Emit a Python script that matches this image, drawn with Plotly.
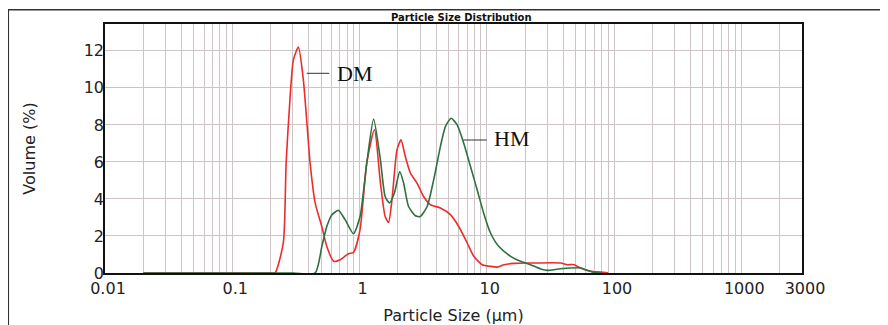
import numpy as np
import plotly.graph_objects as go

# ---- data ----
dm_size = [0.02, 0.1, 0.2, 0.217, 0.252, 0.265, 0.285, 0.302, 0.331, 0.362, 0.409, 0.448, 0.506,
           0.554, 0.628, 0.705, 0.819, 0.897, 1.01, 1.14, 1.31, 1.46, 1.59, 1.69, 1.80,
           1.97, 2.12, 2.29, 2.51, 2.83, 3.19, 3.60, 4.32, 5.18, 6.02, 7.02, 7.91, 9.2,
           10.7, 12.1, 13.7, 16.4, 20.8, 23.4, 38.0, 43.0, 48.4, 54.7, 65.6, 78.5, 90.0]
dm_vol = [0, 0, 0, 0, 1.64, 5.94, 9.53, 11.5, 12.2, 10.43, 5.95, 3.79, 2.5,
          1.42, 0.63, 0.72, 1.04, 1.11, 2.34, 5.95, 7.75, 4.86, 3.05, 2.73, 3.96,
          6.65, 7.19, 6.29, 5.40, 4.86, 4.13, 3.69, 3.51, 3.15, 2.51, 1.62, 0.90, 0.45,
          0.36, 0.32, 0.45, 0.52, 0.54, 0.54, 0.54, 0.45, 0.45, 0.27, 0.09, 0.05, 0]

hm_size = [0.02, 0.1, 0.3, 0.448, 0.506, 0.554, 0.607, 0.684, 0.771, 0.897, 1.01, 1.14, 1.29,
           1.46, 1.59, 1.72, 1.88, 2.07, 2.22, 2.43, 2.75, 3.0, 3.40, 3.83, 4.32, 4.73,
           5.25, 5.85, 6.6, 7.45, 8.4, 9.47, 10.7, 12.4, 15.4, 18.4, 22.1, 26.5, 29.9,
           38.0, 54.7, 61.7, 69.7, 80.0]
hm_vol = [0, 0, 0, 0, 1.44, 2.52, 3.15, 3.38, 2.88, 2.12, 3.05, 5.92, 8.31,
          6.11, 4.13, 3.78, 4.32, 5.48, 4.86, 3.59, 3.09, 3.05, 3.59, 5.04, 6.83, 7.91,
          8.36, 8.0, 7.0, 5.75, 4.5, 3.22, 2.16, 1.44, 0.9, 0.63, 0.45, 0.22, 0.14,
          0.23, 0.27, 0.14, 0.03, 0]

x_label_vals = [0.01, 0.1, 1, 10, 100, 1000, 3000]
x_label_text = ["0.01", "0.1", "1", "10", "100", "1000", "3000"]
y_ticks = [0, 2, 4, 6, 8, 10, 12]

# gridline positions: 1..9 multiples of each decade
grid_vals = []
for d in [0.01, 0.1, 1, 10, 100, 1000]:
    for m in range(1, 10):
        v = round(m * d, 6)
        if v <= 3000:
            grid_vals.append(v)
tick_vals = sorted(set(grid_vals + x_label_vals))
tick_text = [x_label_text[x_label_vals.index(v)] if v in x_label_vals else "" for v in tick_vals]

RED = "#ee2b2b"
GREEN = "#2f7040"
GRID = "#cdc5c5"

fig = go.Figure()
fig.add_trace(go.Scatter(x=dm_size, y=dm_vol, mode="lines", name="DM",
                         line=dict(color=RED, width=1.6, shape="spline", smoothing=0.6)))
fig.add_trace(go.Scatter(x=hm_size, y=hm_vol, mode="lines", name="HM",
                         line=dict(color=GREEN, width=1.6, shape="spline", smoothing=0.6)))

# page body has an 8px margin: figure is placed at (8, 8) on screen
OFF = 8
W, H = 888 - OFF, 325 - OFF
L, R, T, B = 105 - OFF, 86, 24 - OFF, 52
pw, ph = W - L - R, H - T - B

def px(xs):  # screen x -> paper
    return (xs - OFF - L) / pw

def py(ys):  # screen y -> paper
    return (H - B - (ys - OFF)) / ph

fig.update_layout(
    width=W, height=H,
    margin=dict(l=L, r=R, t=T, b=B, autoexpand=False),
    paper_bgcolor="white", plot_bgcolor="white",
    showlegend=False,
    font=dict(family="DejaVu Sans", size=16, color="#222"),
    xaxis=dict(type="log", range=[-2, np.log10(3000)],
               tickmode="array", tickvals=tick_vals, ticktext=tick_text,
               showgrid=True, gridcolor=GRID, gridwidth=1,
               ticks="", ticklabelshift=3,
               showline=True, linecolor="#111", linewidth=1.5, mirror=True,
               title=dict(text="Particle Size (µm)", font=dict(size=16), standoff=13),
               zeroline=False),
    yaxis=dict(range=[0, 13.45], tickmode="array", tickvals=y_ticks,
               showgrid=True, gridcolor=GRID, gridwidth=1, ticks="",
               ticklabelstandoff=-4,
               showline=True, linecolor="#111", linewidth=1.5, mirror=True,
               zeroline=False,
               title=dict(text="Volume (%)", font=dict(size=16), standoff=44)),
)

# outer frame (extends past the right and bottom edges)
fig.add_shape(type="rect", xref="paper", yref="paper",
              x0=px(8.3), x1=px(900), y0=py(340), y1=py(9.7),
              line=dict(color="#333", width=1.5), layer="below")

# chart title
fig.add_annotation(text="<b>Particle Size Distribution</b>", xref="paper", yref="paper",
                   x=px(461), y=py(18), showarrow=False, xanchor="center", yanchor="middle",
                   font=dict(family="DejaVu Sans", size=10, color="#111"))

# series labels with leader lines
fig.add_shape(type="line", xref="paper", yref="paper", x0=px(306.7), x1=px(329.3),
              y0=py(73.3), y1=py(73.3), line=dict(color="#333", width=1))
fig.add_annotation(text="DM", xref="paper", yref="paper", x=px(354), y=py(73),
                   showarrow=False, xanchor="center", yanchor="middle",
                   font=dict(family="Liberation Serif", size=22, color="#111"))
fig.add_shape(type="line", xref="paper", yref="paper", x0=px(463.3), x1=px(486.7),
              y0=py(140), y1=py(140), line=dict(color="#333", width=1))
fig.add_annotation(text="HM", xref="paper", yref="paper", x=px(511), y=py(138.5),
                   showarrow=False, xanchor="center", yanchor="middle",
                   font=dict(family="Liberation Serif", size=22, color="#111"))

fig.write_html("out.html")
